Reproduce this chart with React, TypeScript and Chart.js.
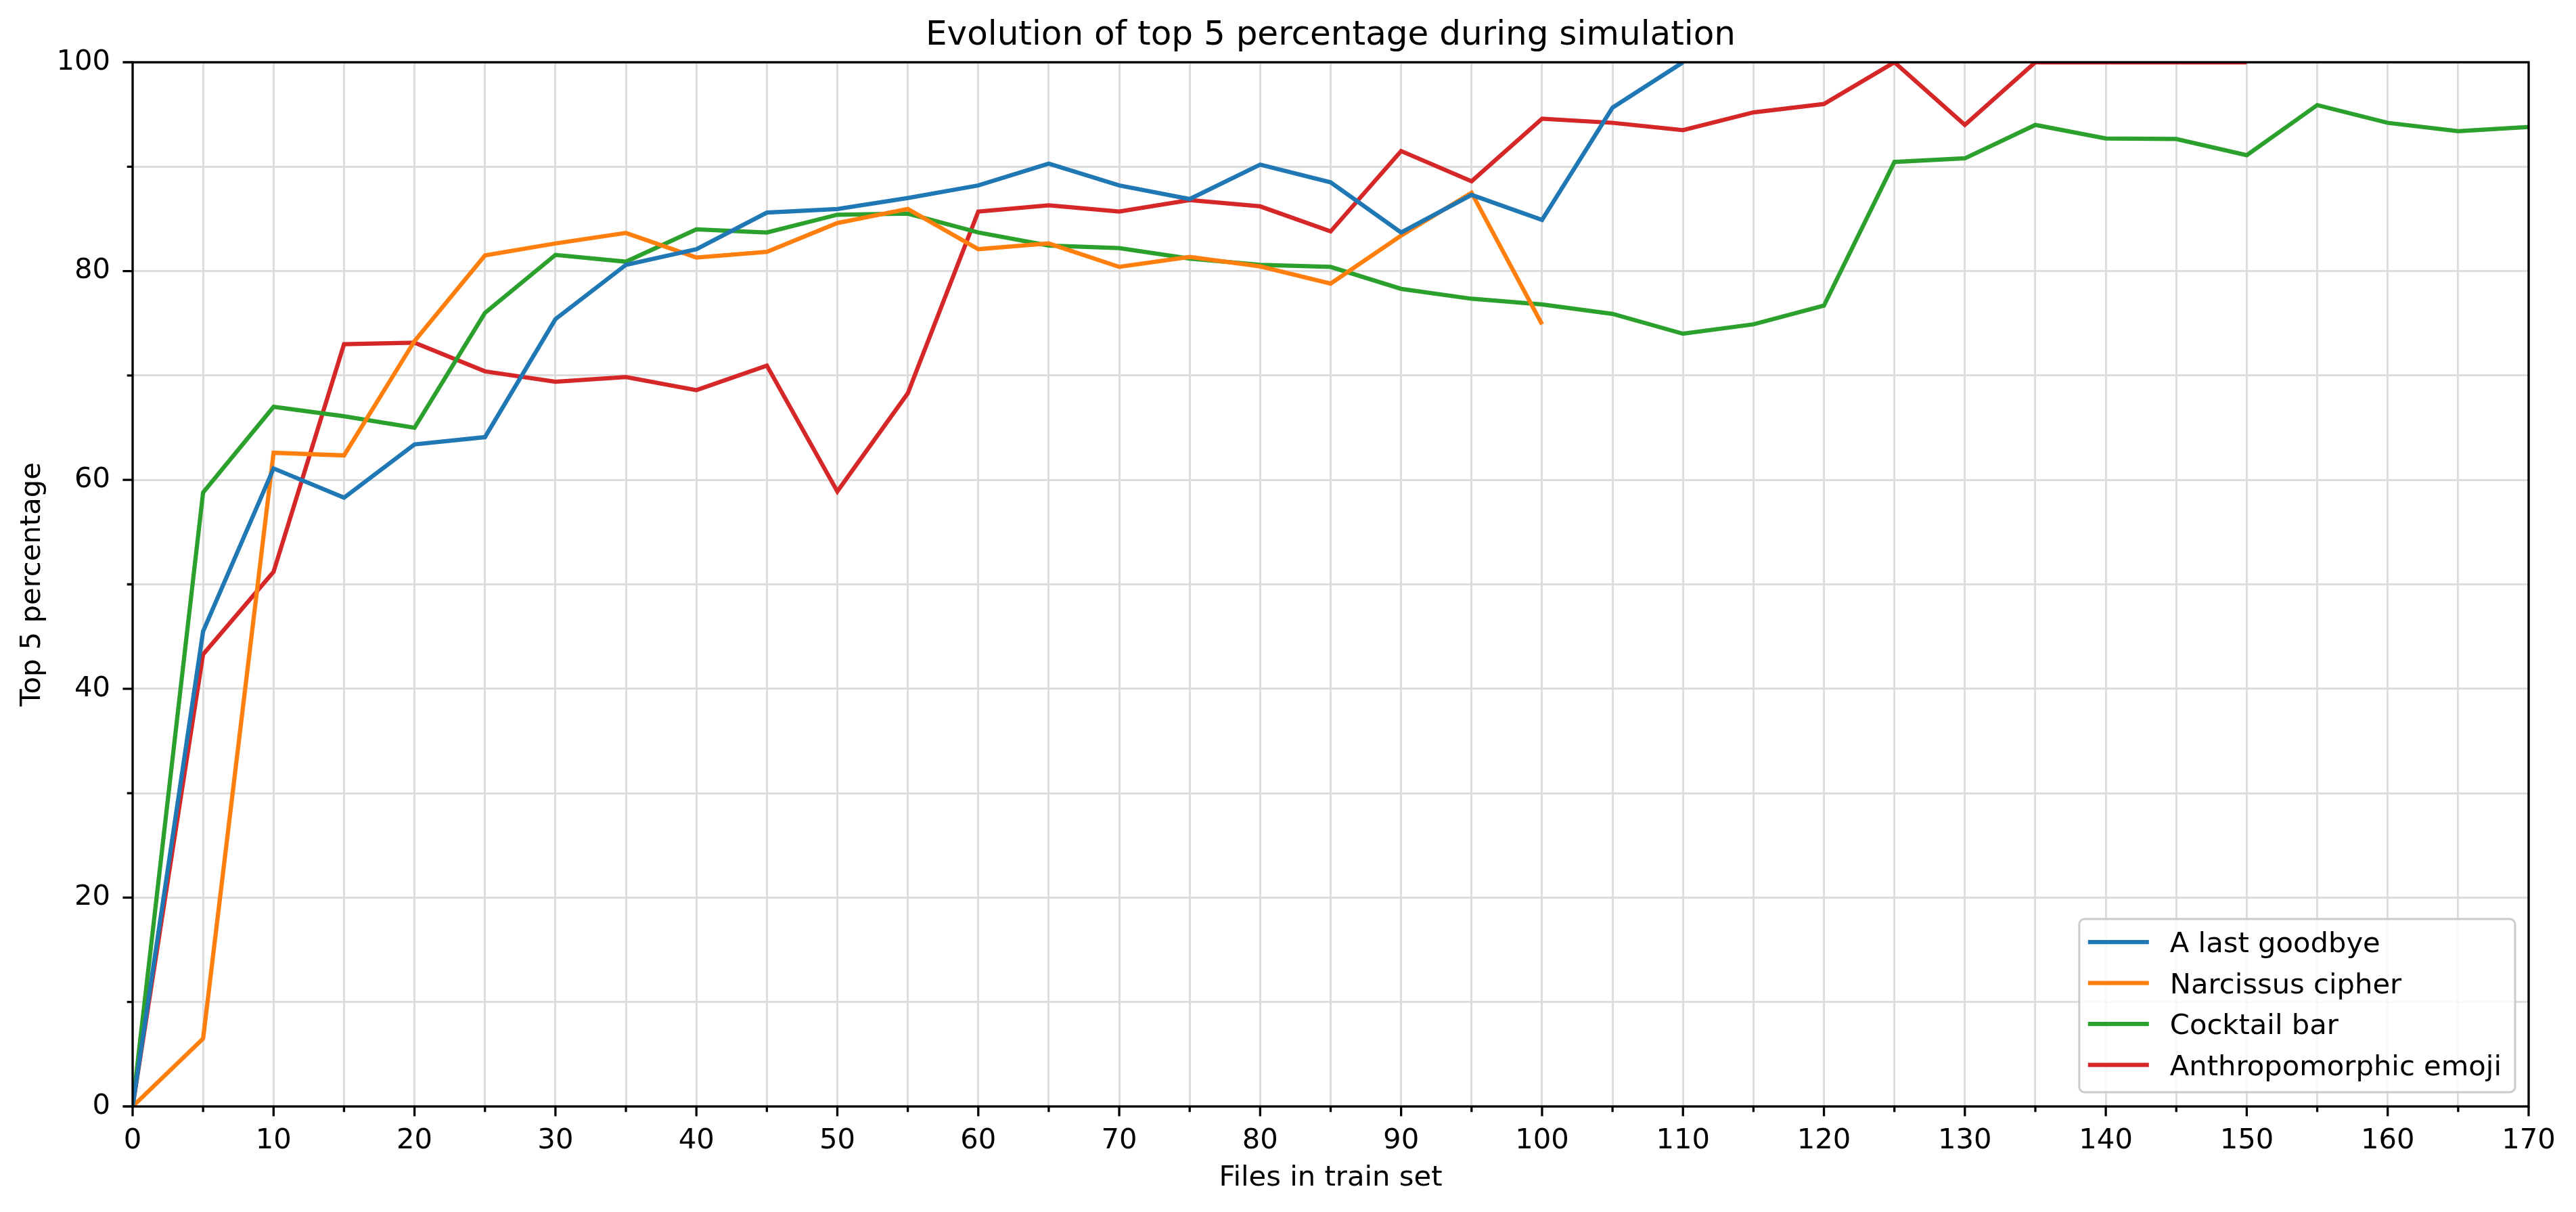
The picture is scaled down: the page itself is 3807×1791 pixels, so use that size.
import { useEffect, useRef } from "react";
import { Chart, registerables } from "chart.js";

Chart.register(...registerables);

const filesInTrainSet = [
  0, 5, 10, 15, 20, 25, 30, 35, 40, 45, 50, 55, 60, 65, 70, 75, 80, 85, 90,
  95, 100, 105, 110, 115, 120, 125, 130, 135, 140, 145, 150, 155, 160, 165, 170,
];

const lastGoodbye = [
  0, 45.5, 61.1, 58.3, 63.4, 64.1, 75.4, 80.6, 82.1, 85.6, 85.95, 87.0, 88.2,
  90.3, 88.2, 86.9, 90.2, 88.5, 83.7, 87.3, 84.9, 95.65, 100,
];

const narcissusCipher = [
  0, 6.5, 62.6, 62.35, 73.3, 81.5, 82.65, 83.65, 81.3, 81.85, 84.6, 85.95,
  82.1, 82.65, 80.4, 81.35, 80.45, 78.8, 83.4, 87.5, 74.9,
];

const cocktailBar = [
  0, 58.8, 67.0, 66.1, 65.0, 76.0, 81.55, 80.9, 84.0, 83.7, 85.4, 85.5, 83.7,
  82.45, 82.2, 81.2, 80.6, 80.4, 78.3, 77.35, 76.8, 75.9, 74.0, 74.9, 76.7,
  90.45, 90.8, 94.0, 92.7, 92.65, 91.1, 95.9, 94.2, 93.4, 93.8,
];

const anthropomorphicEmoji = [
  0, 43.3, 51.2, 73.0, 73.15, 70.4, 69.4, 69.85, 68.6, 70.95, 58.9, 68.3,
  85.7, 86.3, 85.7, 86.8, 86.2, 83.8, 91.5, 88.6, 94.6, 94.2, 93.5, 95.2, 96.0,
  100, 94.0, 100, 100, 100, 100,
];

const seriesNames = [
  "A last goodbye",
  "Narcissus cipher",
  "Cocktail bar",
  "Anthropomorphic emoji",
];
const seriesValues = [lastGoodbye, narcissusCipher, cocktailBar, anthropomorphicEmoji];
const seriesColors = ["#1f77b4", "#ff7f0e", "#2ca02c", "#d62728"];

const FONT = "'DejaVu Sans', sans-serif";
const TEXT_SIZE = 41.7;

// matplotlib-like spines and tick marks, drawn over the lines
const axesFrame = {
  id: "axesFrame",
  afterDatasetsDraw(chart: any) {
    const { ctx, chartArea: a, scales } = chart;
    ctx.save();
    ctx.strokeStyle = "#000";
    ctx.lineWidth = 3.3;
    ctx.beginPath();
    for (const t of scales.x.ticks) {
      const px = scales.x.getPixelForValue(t.value);
      const len = t.value % 10 === 0 ? 14.6 : 8.3;
      ctx.moveTo(px, a.bottom);
      ctx.lineTo(px, a.bottom + len);
    }
    for (const t of scales.y.ticks) {
      const py = scales.y.getPixelForValue(t.value);
      const len = t.value % 20 === 0 ? 14.6 : 8.3;
      ctx.moveTo(a.left, py);
      ctx.lineTo(a.left - len, py);
    }
    ctx.stroke();
    ctx.strokeRect(a.left, a.top, a.right - a.left, a.bottom - a.top);
    ctx.restore();
  },
};

// legend box in the lower right corner of the plot
const cornerLegend = {
  id: "cornerLegend",
  afterDraw(chart: any) {
    const { ctx, chartArea: a } = chart;
    const sets = chart.data.datasets;
    ctx.save();
    ctx.font = `${TEXT_SIZE}px ${FONT}`;
    const textW = Math.max(...sets.map((d: any) => ctx.measureText(d.label).width));
    const w = 134 + textW + 20;
    const h = 256;
    const x = a.right - 20 - w;
    const y = a.bottom - 21 - h;
    ctx.beginPath();
    ctx.roundRect(x, y, w, h, 8);
    ctx.fillStyle = "rgba(255,255,255,0.8)";
    ctx.fill();
    ctx.strokeStyle = "#cccccc";
    ctx.lineWidth = 3;
    ctx.stroke();
    sets.forEach((d: any, i: number) => {
      const cy = y + 34 + i * 60.5;
      ctx.strokeStyle = d.borderColor;
      ctx.lineWidth = 6.25;
      ctx.beginPath();
      ctx.moveTo(x + 13, cy);
      ctx.lineTo(x + 103, cy);
      ctx.stroke();
      ctx.fillStyle = "#000";
      ctx.textAlign = "left";
      ctx.textBaseline = "alphabetic";
      ctx.fillText(d.label, x + 134, cy + 15);
    });
    ctx.restore();
  },
};

export default function App() {
  const canvasRef = useRef<any>(null);

  useEffect(() => {
    if (!canvasRef.current) return;
    Chart.defaults.font.family = FONT;
    Chart.defaults.color = "#000";

    const chart = new Chart(canvasRef.current.getContext("2d"), {
      type: "line",
      data: {
        datasets: seriesNames.map((name, i) => ({
          label: name,
          data: seriesValues[i].map((v, j) => ({ x: filesInTrainSet[j], y: v })),
          borderColor: seriesColors[i],
          backgroundColor: seriesColors[i],
          borderWidth: 6.25,
          pointRadius: 0,
          tension: 0,
          fill: false,
          clip: 0,
        })),
      },
      options: {
        responsive: false,
        devicePixelRatio: 1,
        animation: false,
        layout: { padding: { left: 0, right: 70, top: 0, bottom: 0 } },
        plugins: {
          legend: { display: false },
          tooltip: { enabled: false },
          title: {
            display: true,
            fullSize: false,
            text: "Evolution of top 5 percentage during simulation",
            color: "#000",
            font: { size: 50, weight: "normal", family: FONT },
            padding: { top: 23, bottom: 9 },
          },
        },
        scales: {
          x: {
            type: "linear",
            min: 0,
            max: 170,
            border: { display: false },
            grid: { color: "#dddddd", lineWidth: 3, drawTicks: false },
            ticks: {
              stepSize: 5,
              autoSkip: false,
              maxRotation: 0,
              padding: 26,
              font: { size: TEXT_SIZE },
              callback: (v: any) => (v % 10 === 0 ? String(v) : ""),
            },
            title: {
              display: true,
              text: "Files in train set",
              font: { size: TEXT_SIZE },
              padding: { top: 0, bottom: 25 },
            },
            afterFit: (scale: any) => {
              scale.height = 156;
            },
          },
          y: {
            min: 0,
            max: 100,
            border: { display: false },
            grid: { color: "#dddddd", lineWidth: 3, drawTicks: false },
            ticks: {
              stepSize: 10,
              autoSkip: false,
              padding: 33,
              font: { size: TEXT_SIZE },
              callback: (v: any) => (v % 20 === 0 ? String(v) : ""),
            },
            title: {
              display: true,
              text: "Top 5 percentage",
              font: { size: TEXT_SIZE },
              padding: { top: 23, bottom: 0 },
            },
            afterFit: (scale: any) => {
              scale.width = 196;
            },
          },
        },
      },
      plugins: [axesFrame, cornerLegend],
    });

    return () => chart.destroy();
  }, []);

  return (
    <div style={{ position: "absolute", left: 0, top: 0, background: "#fff" }}>
      <canvas
        ref={canvasRef}
        width={3807}
        height={1791}
        style={{ display: "block", width: 3807, height: 1791 }}
      />
    </div>
  );
}
